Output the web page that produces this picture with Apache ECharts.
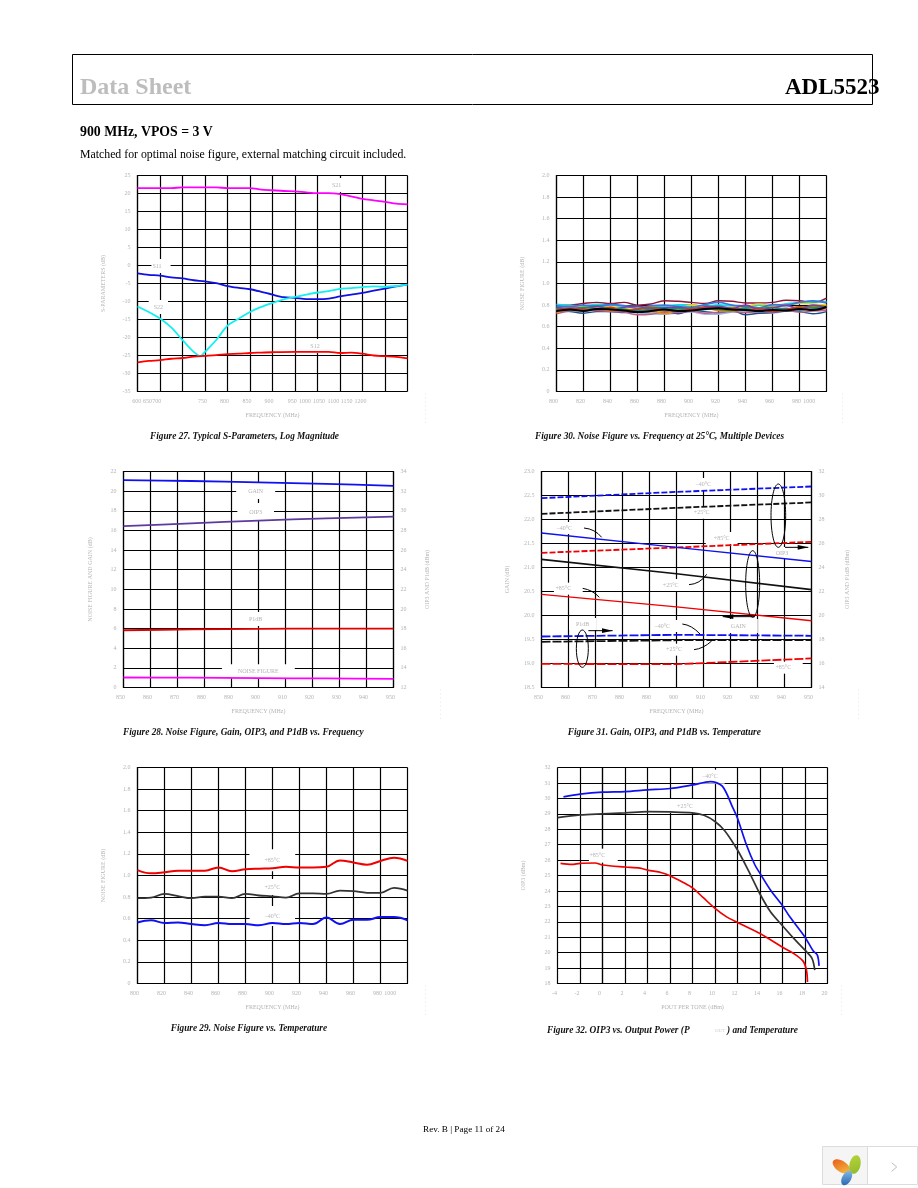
<!DOCTYPE html>
<html><head><meta charset="utf-8">
<style>html,body{margin:0;padding:0;background:#fff}#c{width:918px;height:1188px}</style>
<script src="https://cdn.jsdelivr.net/npm/echarts@6/dist/echarts.min.js"></script>
</head><body><div id="c"></div>
<script>
// ---------- DATA ----------
const s21 = [[600,21.5],[650,21.5],[675,21.5],[700,21.7],[750,21.7],[775,21.7],[800,21.5],[850,21.5],[875,21.1],[900,20.9],[925,20.7],[950,20.6],[975,20.3],[1000,20.1],[1025,20.1],[1050,19.8],[1075,19.2],[1100,18.5],[1125,18.1],[1150,17.7],[1175,17.2],[1200,17.0]];
const s11 = [[600,-2.2],[625,-2.6],[650,-2.8],[675,-3.3],[700,-3.6],[725,-4.1],[750,-4.4],[775,-4.9],[800,-5.7],[825,-6.2],[850,-6.6],[875,-7.3],[900,-8.1],[925,-8.8],[950,-9.0],[975,-9.35],[1000,-9.35],[1025,-9.2],[1050,-8.6],[1075,-8.1],[1100,-7.6],[1125,-7.0],[1150,-6.4],[1175,-5.8],[1200,-5.3]];
const s22 = [[600,-11.4],[625,-12.9],[650,-14.7],[675,-17.2],[700,-20.7],[725,-24],[740,-25.2],[750,-24],[775,-20.7],[800,-16.7],[825,-14.8],[850,-12.9],[875,-11.5],[900,-10.4],[925,-9.4],[950,-8.7],[975,-8.1],[1000,-7.5],[1025,-7.1],[1050,-6.5],[1075,-6.3],[1100,-6.0],[1125,-5.8],[1150,-5.9],[1175,-5.7],[1200,-5.3]];
const s12 = [[600,-26.9],[625,-26.5],[650,-26.3],[675,-25.9],[700,-25.7],[725,-25.3],[750,-25.1],[775,-24.9],[800,-24.6],[825,-24.5],[850,-24.3],[875,-24.2],[900,-24.1],[950,-24.0],[1000,-24.0],[1025,-24.0],[1050,-24.3],[1075,-24.2],[1100,-24.5],[1125,-25.0],[1150,-25.2],[1175,-25.4],[1200,-25.8]];
const labelText27 = ['600','650','700','750','800','850','900','950','1000','1050','1100','1150','1200'];

const freq30 = [800,810,820,830,840,850,860,870,880,890,900,910,920,930,940,950,960,970,980,990,1000];
const devMaroon = [.80,.80,.815,.825,.815,.825,.80,.81,.84,.835,.825,.815,.84,.835,.82,.82,.825,.845,.84,.825,.865];
const devNavy   = [.75,.74,.725,.74,.74,.73,.74,.74,.74,.72,.75,.74,.73,.75,.71,.725,.73,.745,.74,.72,.74];
const devPink   = [.72,.745,.755,.75,.74,.735,.71,.715,.735,.73,.745,.725,.735,.74,.73,.74,.735,.75,.735,.745,.75];
const devCyan   = [.805,.795,.79,.805,.80,.79,.785,.78,.79,.80,.80,.79,.80,.795,.79,.80,.79,.81,.82,.83,.83];
const devOrange = [.73,.76,.76,.77,.75,.76,.74,.75,.72,.755,.76,.77,.75,.745,.76,.755,.745,.755,.77,.79,.79];
const devYellow = [.76,.775,.79,.76,.785,.77,.775,.74,.75,.76,.80,.78,.76,.78,.785,.81,.79,.80,.815,.81,.80];
const devGreen  = [.78,.76,.77,.79,.77,.75,.76,.78,.77,.75,.77,.77,.76,.75,.775,.77,.78,.76,.785,.78,.785];
const devLav    = [.77,.755,.75,.76,.745,.745,.73,.725,.72,.73,.74,.72,.72,.74,.745,.73,.73,.75,.76,.775,.77];
const devBlue   = [.79,.785,.80,.79,.805,.795,.77,.795,.80,.785,.78,.805,.825,.80,.79,.775,.805,.80,.825,.84,.82];
const devPurple = [.775,.77,.775,.785,.76,.78,.79,.765,.775,.78,.76,.785,.79,.77,.80,.76,.775,.795,.77,.80,.775];
const devTeal   = [.765,.75,.78,.765,.77,.76,.75,.76,.76,.77,.755,.76,.775,.76,.765,.75,.76,.77,.755,.765,.78];
const devRed    = [.755,.77,.76,.755,.78,.745,.765,.775,.755,.745,.77,.775,.77,.77,.75,.765,.74,.76,.78,.755,.77];
const devBlack  = [.745,.76,.745,.765,.76,.75,.735,.745,.76,.745,.75,.765,.77,.76,.755,.745,.755,.75,.765,.755,.785];
const labelText30 = ['800','820','840','860','880','900','920','940','960','980','1000'];

const freq28 = [850,875,900,925,950];
const gain28 = [21.12,21.03,20.9,20.74,20.54];
const oip3_28 = [28.44,28.72,29.0,29.22,29.4];
const p1db_28 = [17.83,17.92,17.98,18.0,18.0];
const nf28 = [1.02,1.0,0.95,0.92,0.88];
const labelText28 = ['850','860','870','880','890','900','910','920','930','940','950'];

const freq31 = [850,900,950];
const oip3M40 = [29.78,30.3,30.75];
const oip3P25 = [28.47,28.97,29.42];
const oip3P85 = [25.22,25.67,26.14];
const gainM40 = [21.72,21.42,21.125];
const gainP25 = [21.17,20.87,20.54];
const gainP85 = [20.44,20.18,19.89];
const p1dbM40 = [18.25,18.39,18.31];
const p1dbP25 = [17.81,17.94,17.94];
const p1dbP85 = [15.97,15.94,16.42];

const freq29 = [800,810,820,830,840,850,860,870,880,890,900,910,920,930,940,950,960,970,980,990,1000];
const nfP85 = [1.05,1.02,1.03,1.045,1.045,1.045,1.075,1.04,1.057,1.063,1.066,1.08,1.073,1.073,1.08,1.14,1.12,1.10,1.135,1.165,1.135];
const nfP25 = [.79,.795,.83,.81,.79,.805,.805,.79,.83,.815,.807,.795,.835,.835,.83,.86,.855,.84,.84,.885,.86];
const nfM40 = [.565,.585,.56,.565,.55,.54,.56,.55,.55,.54,.56,.55,.56,.55,.61,.55,.59,.59,.615,.615,.585];

const oip3PoutM40 = [[-3.47,30.1],[-2,30.27],[0,30.4],[2,30.44],[4,30.55],[6,30.64],[8,30.87],[9.6,31.09],[10.65,30.79],[11.6,29.36],[12,28.71],[12.8,26.98],[13.55,25.68],[14,25.14],[14.93,24.06],[16,23.04],[16.65,22.32],[18,21.0],[18.72,20.12],[19.1,19.84],[19.25,19.14]];
const oip3PoutP25 = [[-4,28.75],[-2,28.93],[0,29.0],[2,29.06],[4,29.14],[6,29.12],[8,29.06],[9.02,28.9],[10,28.5],[10.88,27.89],[12,26.65],[12.95,25.35],[14,23.8],[14.93,22.65],[16,21.74],[17,20.92],[18,20.16],[18.63,19.62],[18.87,18.86]];
const oip3PoutP85 = [[-3.73,25.79],[-2.73,25.72],[-2,25.79],[-0.66,25.81],[0,25.68],[2,25.55],[3.34,25.48],[4,25.35],[5.26,25.18],[6,24.99],[7.18,24.55],[8,24.2],[8.96,23.56],[10,22.87],[11.03,22.32],[12,21.96],[14,21.24],[16,20.35],[17,19.94],[17.83,19.45],[18.13,18.86],[18.22,18.1]];
const labelText32 = ['-4','-2','0','2','4','6','8','10','12','14','16','18','20'];

// ---------- STYLE / LAYOUT ----------
const SERIF = '"Liberation Serif","DejaVu Serif",serif';
const FAINT = '#b4b4b4';
const tickFont = {fontFamily:SERIF,fontSize:6,color:FAINT};
const grids = [
 {left:137.5,top:175.5,width:270,height:216},
 {left:556.5,top:175.5,width:270,height:216},
 {left:123.5,top:471.5,width:270,height:216},
 {left:541.5,top:471.5,width:270,height:216},
 {left:137.5,top:767.5,width:270,height:216},
 {left:557.5,top:767.5,width:270,height:216}
];
const ln = {show:true,lineStyle:{color:'#000',width:1.2}};
function xAxis(gi,min,max,interval,name,texts,at){
  const m = new Map(at.map((v,i)=>[v,texts[i]]));
  return {type:'value',gridIndex:gi,min,max,interval,name,nameLocation:'middle',nameGap:21,
    nameTextStyle:tickFont,axisLine:ln,axisTick:{show:false},splitLine:ln,
    axisLabel:{...tickFont,margin:7,padding:[0,6,0,0],customValues:at,formatter:v=>m.has(v)?m.get(v):''}};
}
function yAxis(gi,min,max,interval,name,fmt,pos,gap){
  return {type:'value',gridIndex:gi,min,max,interval,name,nameLocation:'middle',nameGap:gap||31,position:pos||'left',
    nameRotate:90,nameTextStyle:tickFont,axisLine:ln,axisTick:{show:false},
    splitLine:pos==='right'?{show:false}:ln,
    axisLabel:{...tickFont,margin:7,formatter:fmt||(v=>String(v))}};
}
const f1 = v=>v===0?'0':v.toFixed(1);
const ticks10 = [800,820,840,860,880,900,920,940,960,980];
const ticks28 = [850,860,870,880,890,900,910,920,930,940,950];
const xAxes = [
 xAxis(0,600,1200,50,'FREQUENCY (MHz)',labelText27,[605.2,628.9,649.6,751,799.8,850,898.8,950.7,978.8,1009.9,1041.7,1071.3,1102.4]),
 xAxis(1,800,1000,20,'FREQUENCY (MHz)',labelText30,ticks10.concat([989.4])),
 xAxis(2,850,950,10,'FREQUENCY (MHz)',labelText28,ticks28),
 xAxis(3,850,950,10,'FREQUENCY (MHz)',labelText28,ticks28),
 xAxis(4,800,1000,20,'FREQUENCY (MHz)',labelText30,ticks10.concat([989.4])),
 xAxis(5,-4,20,2,'POUT PER TONE (dBm)',labelText32,[-4,-2,0,2,4,6,8,10,12,14,16,18,20])
];
const yAxes = [
 yAxis(0,-35,25,5,'S-PARAMETERS (dB)'),
 yAxis(1,0,2,0.2,'NOISE FIGURE (dB)',f1),
 yAxis(2,0,22,2,'NOISE FIGURE AND GAIN (dB)',null,null,30),
 yAxis(3,18.5,23,0.5,'GAIN (dB)',v=>v.toFixed(1)),
 yAxis(4,0,2,0.2,'NOISE FIGURE (dB)',f1),
 yAxis(5,18,32,1,'OIP3 (dBm)'),
 yAxis(2,12,34,2,'OIP3 AND P1dB (dBm)',null,'right',31),
 yAxis(3,14,32,2,'OIP3 AND P1dB (dBm)',null,'right',33)
];
function pairs(xs,ys){return xs.map((x,i)=>[x,ys[i]]);}
function line(xi,yi,data,color,width,opt){
  opt=opt||{};
  return {type:'line',xAxisIndex:xi,yAxisIndex:yi,data,symbol:'none',smooth:opt.smooth===undefined?0.3:opt.smooth,
    silent:true,animation:false,lineStyle:{color,width,type:opt.dash||'solid'},z:opt.z||2};
}
const devices = [[devLav,'#a8b2da',2.4],[devMaroon,'#8e1538',1.4],[devNavy,'#1d4f86',1.4],[devPink,'#b9608c',1.4],[devCyan,'#19d7e6',2],[devYellow,'#f2d21c',1.6],[devOrange,'#ee8a12',1.6],[devBlue,'#3a78d8',1.8],[devGreen,'#3f8f3a',1.6],[devPurple,'#7a3ea6',1.6],[devTeal,'#178a8a',1.6],[devRed,'#d33a2a',1.4],[devBlack,'#000',2]];
const series = [
 line(0,0,s21,'#ff00ff',1.8),line(0,0,s11,'#1010e0',1.8),line(0,0,s22,'#10f0f0',1.8),line(0,0,s12,'#ff0000',1.8),
 ...devices.map(d=>line(1,1,pairs(freq30,d[0]),d[1],d[2],{smooth:0.4})),
 line(2,2,pairs(freq28,gain28),'#1010f0',1.8),
 line(2,6,pairs(freq28,oip3_28),'#5e3a9e',1.8),
 line(2,6,pairs(freq28,p1db_28),'#e00000',1.8),
 line(2,2,pairs(freq28,nf28),'#ff00ff',1.8),
 line(3,7,pairs(freq31,oip3M40),'#1010f0',1.8,{dash:[6,2],smooth:false}),
 line(3,7,pairs(freq31,oip3P25),'#111',1.8,{dash:[6,2],smooth:false}),
 line(3,7,pairs(freq31,oip3P85),'#f00000',1.8,{dash:[6,2],smooth:false}),
 line(3,3,pairs(freq31,gainM40),'#1010f0',1.4,{smooth:false}),
 line(3,3,pairs(freq31,gainP25),'#111',1.7,{smooth:false}),
 line(3,3,pairs(freq31,gainP85),'#f00000',1.4,{smooth:false}),
 line(3,7,pairs(freq31,p1dbM40),'#1010f0',1.8,{dash:[9,2],smooth:false}),
 line(3,7,pairs(freq31,p1dbP25),'#111',1.8,{dash:[9,2],smooth:false}),
 line(3,7,pairs(freq31,p1dbP85),'#f00000',1.8,{dash:[9,2],smooth:false}),
 line(4,4,pairs(freq29,nfP85),'#f00000',2,{smooth:0.4}),
 line(4,4,pairs(freq29,nfP25),'#333',1.8,{smooth:0.4}),
 line(4,4,pairs(freq29,nfM40),'#1010f0',2,{smooth:0.4}),
 line(5,5,oip3PoutM40,'#1010f0',1.7),
 line(5,5,oip3PoutP25,'#333',1.7),
 line(5,5,oip3PoutP85,'#f00000',1.7)
];

// ---------- ANNOTATIONS ----------
const g = [];
function txt(text,x,y,font,fill,extra){
  g.push({type:'text',z:5,silent:true,style:Object.assign({text,x,y,font,fill,align:'left',verticalAlign:'middle'},extra||{})});
}
function tag(text,x,y,pv,phL,phR){ // white box breaking the grid, below the curves
  if(phR===undefined)phR=phL;
  g.push({type:'text',z:1,silent:true,style:{text,x,y,font:'6px '+SERIF,fill:FAINT,align:'center',verticalAlign:'middle',
    backgroundColor:'#fff',padding:[pv,phR,pv,phL]}});
}
function cap(text,x,y){txt(text,x,y,'italic bold 9.3px '+SERIF,'#111');}
function z(ox,oy){return (x,y)=>[ox+x/3,oy+y/3];}
// page furniture
g.push({type:'polyline',z:1,shape:{points:[[72.5,54.5],[872.5,54.5],[872.5,104.5],[72.5,104.5],[72.5,54.5]]},style:{fill:'none',stroke:'#000',lineWidth:1},silent:true});
txt('Data Sheet',80,88,'bold 24px '+SERIF,'#bdbdbd');
txt('ADL5523',785,88,'bold 23px '+SERIF,'#000');
txt('900 MHz, VPOS = 3 V',80,132,'bold 13.8px '+SERIF,'#000');
txt('Matched for optimal noise figure, external matching circuit included.',80,155,'11.8px '+SERIF,'#000');
txt('Rev. B | Page 11 of 24',423,1130,'9.2px '+SERIF,'#000');
cap('Figure 27. Typical S-Parameters, Log Magnitude',150,436.7);
cap('Figure 30. Noise Figure vs. Frequency at 25°C, Multiple Devices',535,436.7);
cap('Figure 28. Noise Figure, Gain, OIP3, and P1dB vs. Frequency',123,732.7);
cap('Figure 31. Gain, OIP3, and P1dB vs. Temperature',567.7,732.7);
cap('Figure 29. Noise Figure vs. Temperature',170.7,1028.7);
cap('Figure 32. OIP3 vs. Output Power (P',547,1030.7);
cap(') and Temperature',727,1030.7);
txt('OUT',715,1031,'5px '+SERIF,'#cfcfcf');
// faint rotated document codes
[[426,408],[843,408],[441,704],[859,704],[426,1000],[842,1000]].forEach(p=>{
  g.push({type:'text',z:1,silent:true,x:p[0],y:p[1],rotation:Math.PI/2,
    style:{text:'· · · · · · · ·',x:0,y:0,font:'7px '+SERIF,fill:'#d0d0d0',align:'center',verticalAlign:'middle'}});
});
// chart labels
let p=z(70,50);
tag('S21',...p(800,405),4,5);tag('S11',...p(273,648),4,1,9);tag('S22',...p(265,771),4,5);tag('S12',...p(735,888),4,6);
p=z(80,460);
tag('GAIN',...p(527,93),5,12);tag('OIP3',...p(527,156),6,12);tag('P1dB',...p(527,477),4,12);tag('NOISE FIGURE',...p(535,634),4,16);
p=z(80,755);
tag('+85°C',...p(577,316),8,15);tag('+25°C',...p(577,396),5,15);tag('–40°C',...p(577,483),7,15);
p=z(500,755);
tag('–40°C',...p(630,65),4,7);tag('+25°C',...p(555,153),4,8);tag('+85°C',...p(310,302),4,0.5,12.5);
p=z(500,460);
tag('–40°C',...p(610,72),3,8);tag('+25°C',...p(605,158),3,8);tag('+85°C',...p(665,234),3,8);
tag('–40°C',...p(193,204),3,8);tag('+85°C',...p(205,386),3,1.5,11.5);tag('+25°C',...p(527,375),3,2,12);
tag('OIP3',...p(846,279),3,7);tag('GAIN',...p(715,498),4,12);tag('P1dB',...p(248,492),3,7);
tag('–40°C',...p(502,498),3,2,12);tag('+25°C',...p(537,569),3,2,12);tag('+85°C',...p(865,623),3,1.5,11.5);
// ellipses and arrows of figure 31
function ell(cx,cy,rx,ry){const c=p(cx,cy);g.push({type:'ellipse',z:4,silent:true,shape:{cx:c[0],cy:c[1],rx:rx/3,ry:ry/3},style:{fill:'none',stroke:'#000',lineWidth:1}});}
ell(835,167,22,95);ell(758,372,21,100);ell(247,566,18,56);
function poly(pts,fill){g.push({type:fill?'polygon':'polyline',z:4,silent:true,shape:{points:pts.map(q=>p(q[0],q[1]))},style:fill?{fill:'#000'}:{fill:'none',stroke:'#000',lineWidth:1}});}
function arrow(x0,x1,y){poly([[x0,y],[x1,y]]);const d=x1>x0?-1:1;poly([[x1,y],[x1+d*32,y-7],[x1+d*32,y+7]],true);}
arrow(855,925,262);arrow(765,668,470);arrow(265,338,512);
function lead(a,b,c){
  const A=p(a[0],a[1]),B=p(b[0],b[1]),C=p(c[0],c[1]);
  g.push({type:'bezierCurve',z:4,silent:true,shape:{x1:A[0],y1:A[1],x2:C[0],y2:C[1],cpx1:B[0],cpy1:B[1]},style:{fill:'none',stroke:'#000',lineWidth:1}});
}
lead([252,204],[285,207],[305,232]);lead([248,385],[278,390],[298,412]);lead([567,374],[600,372],[620,343]);
lead([547,492],[575,495],[600,522]);lead([582,569],[610,566],[635,543]);
// bottom right widget
g.push({type:'rect',z:5,silent:true,shape:{x:822.5,y:1146.5,width:45,height:38},style:{fill:'#f5f5f5',stroke:'#dcdcdc',lineWidth:1}});
g.push({type:'rect',z:5,silent:true,shape:{x:867.5,y:1146.5,width:50,height:38},style:{fill:'#fff',stroke:'#dcdcdc',lineWidth:1}});
function petal(x,y,rx,ry,rot,c0,c1){
  g.push({type:'ellipse',z:6,silent:true,x,y,rotation:rot,shape:{cx:0,cy:0,rx,ry},
    style:{fill:new echarts.graphic.LinearGradient(0,0,1,1,[{offset:0,color:c0},{offset:1,color:c1}])}});
}
petal(841.5,1166.5,10,5.5,-0.6,'#e8591c','#f4c542');
petal(855,1164.5,5.5,9.5,-0.22,'#b7d43a','#8fb92c');
petal(846.7,1178,4.5,8,-0.5,'#8cc2e8','#1f5fb0');
g.push({type:'polyline',z:6,silent:true,shape:{points:[[891.7,1162.7],[896.7,1167],[891.7,1171.3]]},style:{fill:'none',stroke:'#bbb',lineWidth:1}});

const chart = echarts.init(document.getElementById('c'),null,{renderer:'canvas',width:918,height:1188});
chart.setOption({backgroundColor:'#fff',animation:false,grid:grids,xAxis:xAxes,yAxis:yAxes,series,graphic:{elements:g}});
</script></body></html>
